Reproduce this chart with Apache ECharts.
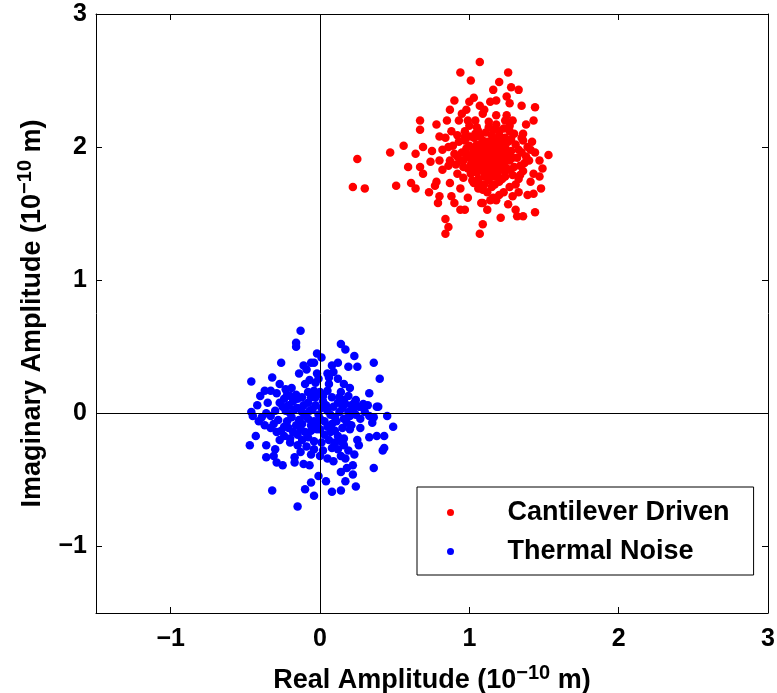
<!DOCTYPE html>
<html>
<head>
<meta charset="utf-8">
<script src="https://cdn.jsdelivr.net/npm/echarts@6/dist/echarts.min.js"></script>
<style>html,body{margin:0;padding:0;background:#fff}#chart{width:777px;height:693px}</style>
</head>
<body>
<div id="chart"></div>
<script>
// Tick values shown on both axes
const xTicks = [-1, 0, 1, 2, 3];
const yTicks = [-1, 0, 1, 2, 3];
const seriesNames = ['Cantilever Driven', 'Thermal Noise'];

// Cantilever Driven: [real, imaginary] (1e-10 m)
const drivenPoints = [
[1.07,2.64],[0.94,2.56],[1.26,2.56],[1.01,2.50],[1.20,2.49],[1.16,2.43],[1.28,2.45],[1.33,2.43],[0.90,2.35],[1.44,2.30],
[1.43,2.20],[1.35,2.31],[0.67,2.20],[0.67,2.13],[0.56,2.01],[0.47,1.96],[0.25,1.91],[0.22,1.70],[0.30,1.69],[0.51,1.71],
[0.59,1.85],[0.69,2.00],[0.64,1.95],[0.75,1.97],[0.67,1.85],[0.74,1.89],[0.69,1.80],[0.61,1.73],[0.64,1.69],[0.73,1.66],
[0.80,1.63],[0.88,1.63],[0.79,1.58],[0.84,1.46],[0.86,1.40],[0.84,1.35],[1.07,1.35],[1.09,1.42],[1.21,1.47],[1.31,1.53],
[1.36,1.48],[1.44,1.51],[1.32,1.48],[1.48,1.69],[1.53,1.94],[1.47,1.90],[1.49,1.84],[1.47,1.78],[1.41,1.74],[1.39,1.64],
[1.43,1.65],[1.33,1.66],[1.26,1.57],[1.12,1.53],[1.08,1.58],[0.94,1.53],[0.97,1.53],[0.90,1.58],[0.87,1.73],[0.94,1.69],
[0.86,2.00],[0.78,2.17],[0.80,2.08],[0.84,2.07],[0.87,2.28],[0.85,2.20],[0.98,2.28],[1.00,2.34],[1.03,2.37],[1.07,2.31],
[1.14,2.34],[1.18,2.35],[1.25,2.38],[1.27,2.33],[0.93,2.20],[0.99,2.20],[1.04,2.20],[1.09,2.25],[1.13,2.19],[1.24,2.20],
[1.29,2.20],[1.38,2.17],[1.36,2.10],[1.35,2.07],[1.39,2.00],[1.41,1.98],[1.34,1.79],[1.29,1.63],[1.20,1.64],[1.18,1.60],
[1.14,1.60],[1.09,1.58],[1.03,1.73],[1.06,1.74],[0.96,1.85],[0.94,1.90],[0.92,1.93],[0.87,1.90],[0.86,1.86],[0.78,1.74],
[0.77,1.71],[0.82,1.98],[0.97,2.08],[1.00,2.08],[1.06,2.12],[1.16,2.13],[1.20,2.12],[1.27,2.12],
[1.02,1.95],[1.05,2.02],[1.08,1.98],[1.10,1.90],[1.12,1.95],[1.14,2.00],[1.16,1.92],[1.18,1.88],[1.20,1.96],[1.22,2.03],
[1.11,1.84],[1.07,1.86],[1.04,1.88],[1.00,1.92],[0.98,1.99],[1.13,1.80],[1.17,1.78],[1.21,1.83],[1.25,1.90],[1.28,1.97],
[1.26,2.04],[1.19,2.06],[1.15,2.09],[1.09,2.05],[1.03,2.07],[1.01,1.80],[1.06,1.76],[1.10,1.72],[1.15,1.70],[1.20,1.74],
[1.24,1.78],[1.30,1.85],[1.32,1.92],[1.31,2.02],[1.27,1.70],[1.23,1.66],[1.12,1.66],[1.06,1.69],[0.99,1.84],[0.95,1.96],
[0.93,2.04],[0.97,2.12],[1.13,2.15],[1.23,2.14],[1.30,2.10],[1.35,1.96],[1.37,1.88],[1.33,1.76],[1.16,1.98],[1.14,1.87],
[1.09,1.94],[1.19,2.00],[1.11,2.01],[1.24,1.94],[1.07,1.91],[1.18,1.84],[1.27,1.83],[1.03,1.98],[0.96,1.90],[1.21,1.89],
[1.13,1.93],[1.09,1.82],[1.02,1.75],[0.92,1.80],[0.90,1.95],[1.40,1.90],[1.43,1.80],[1.36,2.05],[1.25,2.24],[1.10,2.28],
[0.95,2.25],[1.18,2.24],[1.05,2.15],[1.16,1.62],[0.99,1.62],[1.44,1.96],[1.42,2.04],[0.88,2.12],[0.82,1.83],[0.80,1.90],
[1.04,1.92],[1.06,1.96],[1.08,2.02],[1.10,1.98],[1.12,2.04],[1.12,1.88],[1.14,1.91],[1.15,1.96],[1.17,2.02],[1.18,1.95],
[1.19,1.91],[1.20,1.86],[1.21,1.99],[1.22,1.93],[1.23,1.87],[1.24,2.00],[1.25,1.84],[1.26,1.96],[1.27,1.90],[1.28,2.06],
[1.29,1.92],[1.29,1.79],[1.10,1.78],[1.13,1.75],[1.16,1.82],[1.19,1.79],[1.22,1.76],[1.05,1.81],[1.08,1.88],[1.01,1.87],
[0.98,1.94],[1.00,2.01],[1.04,2.10],[1.07,2.08],[1.11,2.11],[1.16,2.06],[1.20,2.09],[1.24,2.07],[1.27,2.16],[1.18,2.17],
[1.33,1.98],[1.34,1.86],[1.31,1.72],[1.17,1.72],[1.09,1.68],[0.96,1.77],[0.91,1.87],[0.89,2.01],[0.92,2.09],[1.00,2.16],
[1.14,1.84],[1.21,1.95],[1.11,1.93],[1.07,2.00],[1.15,2.02],[1.24,1.82],[1.03,1.84],[0.97,2.05],[1.38,1.93],[1.36,1.82]
];

// Thermal Noise: [real, imaginary] (1e-10 m)
const thermalPoints = [
[-0.13,0.62],[-0.16,0.53],[-0.16,0.50],[0.14,0.52],[0.17,0.48],[-0.02,0.45],[0.01,0.42],[0.23,0.43],[-0.26,0.38],[-0.11,0.36],
[-0.06,0.38],[-0.04,0.38],[-0.09,0.33],[-0.14,0.30],[0.08,0.36],[0.12,0.38],[0.19,0.35],[0.25,0.35],[0.36,0.38],[0.40,0.26],
[-0.46,0.24],[-0.32,0.27],[-0.27,0.22],[-0.23,0.18],[-0.03,0.23],[-0.01,0.26],[0.05,0.30],[0.09,0.31],[0.12,0.26],[0.16,0.22],
[0.33,0.15],[0.39,0.05],[0.45,-0.02],[0.49,-0.10],[0.43,-0.26],[0.42,-0.28],[0.36,-0.41],[0.24,-0.55],[0.14,-0.58],[0.08,-0.59],
[-0.04,-0.62],[-0.15,-0.70],[-0.32,-0.58],[-0.10,-0.57],[-0.06,-0.52],[-0.01,-0.47],[0.04,-0.51],[0.17,-0.51],[0.22,-0.46],[0.22,-0.39],
[0.23,-0.31],[0.26,-0.24],[0.33,-0.18],[0.38,-0.17],[0.43,-0.17],[0.35,-0.07],[0.36,-0.03],[0.38,0.05],[0.32,0.06],[0.27,0.05],
[-0.46,0.01],[-0.45,-0.02],[-0.41,-0.06],[-0.43,-0.17],[-0.47,-0.24],[-0.36,-0.24],[-0.36,-0.33],[-0.31,-0.32],[-0.25,-0.39],[-0.29,-0.37],
[-0.17,-0.33],[-0.17,-0.37],[-0.13,-0.29],[-0.11,-0.38],[-0.07,-0.39],[-0.06,-0.31],[0.00,-0.32],[0.05,-0.34],[0.09,-0.36],[0.14,-0.32],
[0.17,-0.34],[0.18,-0.41],[0.14,-0.44],[-0.40,0.13],[-0.42,0.06],[-0.37,0.17],[-0.33,0.17],[-0.29,0.15],[-0.24,0.11],[-0.20,0.13],
[-0.15,0.11],[-0.08,0.16],[-0.04,0.17],[0.00,0.16],[0.05,0.17],[0.14,0.16],[0.19,0.13],[0.23,0.08],[0.26,0.05],[-0.33,-0.11],
[-0.37,-0.09],[-0.29,-0.14],[-0.24,-0.17],[-0.20,-0.19],[-0.15,-0.16],[-0.08,-0.18],[-0.04,-0.21],[-0.02,-0.12],[0.07,-0.14],[0.12,-0.17],
[0.16,-0.19],[0.20,-0.12],[0.27,-0.11],[0.08,-0.26],[0.12,-0.27],[0.16,-0.24],[0.19,-0.28],[-0.15,-0.24],
[-0.25,0.05],[-0.20,0.00],[-0.15,0.04],[-0.10,-0.02],[-0.05,0.03],[0.00,-0.04],[0.05,0.02],[0.10,-0.03],[0.15,0.04],[0.20,-0.02],
[-0.22,-0.06],[-0.12,-0.08],[-0.02,-0.09],[0.08,-0.08],[0.18,-0.07],[-0.18,0.09],[-0.08,0.08],[0.02,0.09],[0.12,0.08],[0.22,0.02],
[-0.30,0.02],[-0.28,-0.05],[-0.35,0.08],[-0.33,-0.02],[0.27,-0.04],[0.30,0.01],[-0.06,-0.13],[0.03,-0.16],[-0.13,-0.12],[0.13,0.12],
[-0.03,0.12],[-0.24,-0.10],[0.24,0.10],[-0.18,-0.14],[0.06,0.22],[-0.10,0.22],[0.01,-0.22],[-0.09,-0.25],[0.10,-0.22],[-0.27,-0.20],
[-0.27,0.08],[-0.23,0.02],[-0.21,0.06],[-0.19,-0.03],[-0.17,0.03],[-0.14,-0.05],[-0.12,0.01],[-0.11,0.06],[-0.08,-0.04],[-0.07,0.02],
[-0.04,-0.06],[-0.03,0.06],[-0.01,-0.01],[0.01,0.04],[0.03,-0.06],[0.04,0.06],[0.07,-0.01],[0.09,0.05],[0.11,-0.06],[0.13,0.01],
[0.16,-0.04],[0.17,0.07],[0.19,0.01],[0.21,-0.09],[0.24,-0.01],[-0.31,-0.08],[-0.26,-0.13],[-0.21,-0.11],[-0.16,-0.09],[-0.10,-0.14],
[-0.06,-0.09],[0.00,-0.12],[0.05,-0.10],[0.10,-0.13],[0.15,-0.11],[-0.22,0.14],[-0.16,0.14],[-0.12,0.12],[-0.06,0.12],[0.02,0.13],
[0.08,0.12],[0.16,0.10],[0.21,0.06],[-0.36,0.00],[-0.39,-0.03],[0.33,-0.02],[0.29,0.07],[0.02,-0.28],[-0.04,-0.27],[0.06,-0.20],
[-0.20,-0.22],[-0.12,-0.20],[0.14,-0.21],[0.06,0.27],[-0.07,0.25],[-0.19,0.19],[0.20,0.19],[-0.30,-0.27],[0.25,-0.20],[-0.02,0.30]
];

const FONT = '"Liberation Sans", Arial, sans-serif';
const FS_TICK = 25;
const FS_TEXT = 27;
const fmt = v => String(v).replace('-', '\u2212');

const chart = echarts.init(document.getElementById('chart'), null, {renderer: 'canvas'});

function nameRich() {
  return {
    a: {fontFamily: FONT, fontWeight: 'bold', fontSize: FS_TEXT, color: '#000'},
    sup: {fontFamily: FONT, fontWeight: 'bold', fontSize: 20, color: '#000', padding: [0, 0, 16, 0]}
  };
}

const lineStyle = {color: '#000', width: 1};

chart.setOption({
  animation: false,
  backgroundColor: '#fff',
  grid: {left: 96, right: 9, top: 14, bottom: 80, containLabel: false, outerBoundsMode: 'none'},
  legend: {
    orient: 'vertical',
    left: 417, top: 487,
    padding: [12, 24, 10, 30],
    itemGap: 12,
    itemWidth: 40, itemHeight: 7,
    icon: 'circle',
    borderColor: '#000', borderWidth: 1,
    backgroundColor: '#fff',
    textStyle: {fontFamily: FONT, fontWeight: 'bold', fontSize: FS_TEXT, color: '#000', padding: [0, 0, 0, 32]},
    data: seriesNames
  },
  xAxis: [{
    type: 'value', min: -1.5, max: 3, position: 'bottom',
    splitLine: {show: false},
    axisLine: {onZero: false, lineStyle},
    axisTick: {inside: true, length: 6, lineStyle, customValues: xTicks},
    axisLabel: {customValues: xTicks, formatter: fmt, margin: 14,
      fontFamily: FONT, fontWeight: 'bold', fontSize: FS_TICK, color: '#000'},
    name: '{a|Real Amplitude (10}{sup|\u221210}{a| m)}',
    nameLocation: 'middle', nameGap: 50,
    nameTextStyle: {rich: nameRich()}
  }, {
    type: 'value', min: -1.5, max: 3, position: 'top',
    splitLine: {show: false},
    axisLine: {onZero: false, lineStyle},
    axisTick: {inside: true, length: 6, lineStyle, customValues: xTicks},
    axisLabel: {show: false}
  }],
  yAxis: [{
    type: 'value', min: -1.5, max: 3, position: 'left',
    splitLine: {show: false},
    axisLine: {onZero: false, lineStyle},
    axisTick: {inside: true, length: 6, lineStyle, customValues: yTicks},
    axisLabel: {customValues: yTicks, formatter: fmt, margin: 9,
      fontFamily: FONT, fontWeight: 'bold', fontSize: FS_TICK, color: '#000'},
    name: '{a|Imaginary Amplitude (10}{sup|\u221210}{a| m)}',
    nameLocation: 'middle', nameGap: 45, nameRotate: 90,
    nameTextStyle: {rich: nameRich()}
  }, {
    type: 'value', min: -1.5, max: 3, position: 'right',
    splitLine: {show: false},
    axisLine: {onZero: false, lineStyle},
    axisTick: {inside: true, length: 6, lineStyle, customValues: yTicks},
    axisLabel: {show: false}
  }],
  series: [{
    name: seriesNames[0],
    type: 'scatter',
    symbol: 'circle', symbolSize: 8.5,
    itemStyle: {color: '#ff0000', opacity: 1},
    data: drivenPoints
  }, {
    name: seriesNames[1],
    type: 'scatter',
    symbol: 'circle', symbolSize: 8.5,
    itemStyle: {color: '#0000ff', opacity: 1},
    data: thermalPoints,
    markLine: {
      silent: true, symbol: 'none', animation: false,
      label: {show: false},
      lineStyle: {color: '#000', width: 1, type: 'solid'},
      emphasis: {disabled: true},
      data: [{xAxis: 0}, {yAxis: 0}]
    }
  }]
});
</script>
</body>
</html>
